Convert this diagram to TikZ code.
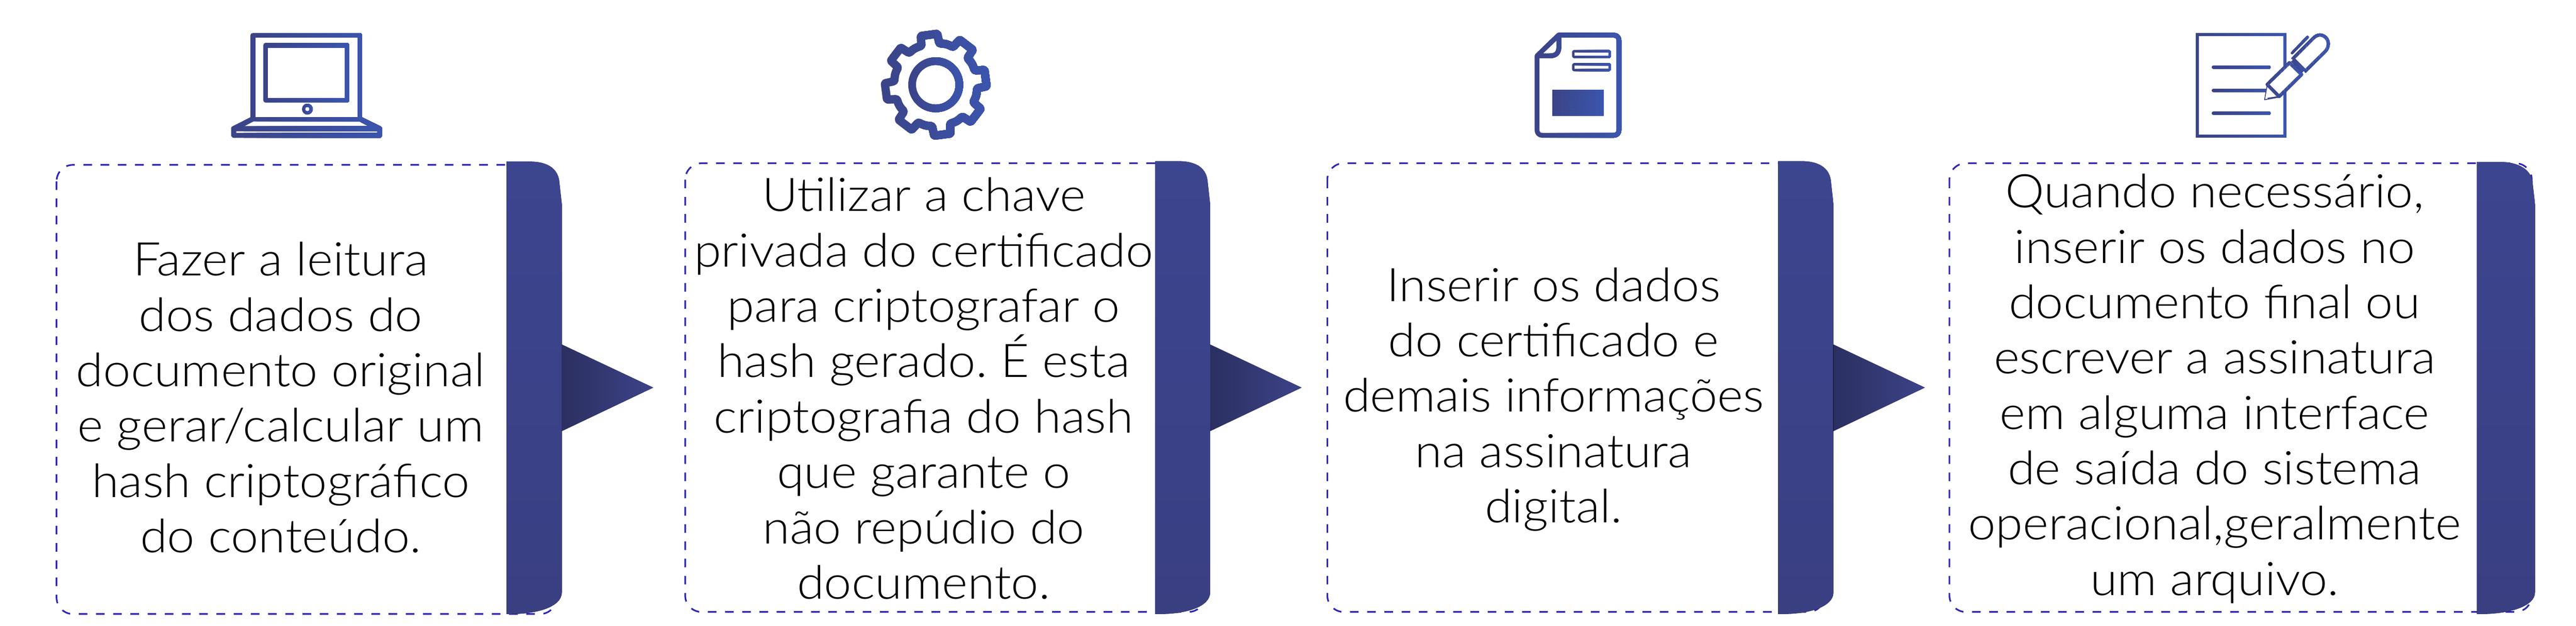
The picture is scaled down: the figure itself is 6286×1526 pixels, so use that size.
\documentclass[tikz,border=0pt]{standalone}
\usepackage{fontspec}
\setmainfont{Lato Light}
\newfontfamily\labelfont[FakeStretch=1.065]{Lato Light}
\definecolor{gradL}{HTML}{3B4386}
\definecolor{gradR}{HTML}{3B55AE}
\definecolor{barTop}{HTML}{3C458F}
\definecolor{barBot}{HTML}{3A3F82}
\definecolor{arrowL}{HTML}{2B2F60}
\definecolor{arrowR}{HTML}{3D4389}
\definecolor{frameBlue}{HTML}{2F26B8}
\definecolor{checkLine}{HTML}{2A5F90}
\tikzset{
  stepframe/.style={draw=frameBlue,line width=4pt,dash pattern=on 21pt off 21pt,rounded corners=40pt},
  stepbarshape/.style={top color=barTop,bottom color=barBot,draw=none},
  steparrow/.style={left color=arrowL,right color=arrowR,draw=none},
  steptext/.style={anchor=north,inner sep=0pt,align=center,text=black,font=\labelfont\fontsize{113}{135}\selectfont\frenchspacing},
  iconline/.style={draw,line join=round},
}
\newcommand{\firstline}{\vrule height 100pt width 0pt\relax}
% paints a path in 12 overlapping strips, so that strokes take a left-to-right gradient
\newcommand{\gradpaint}[4]{%
  \foreach \i in {0,...,11}{%
    \pgfmathsetmacro{\xa}{\i==0 ? #1-60 : #1+(#2-#1)*\i/12}%
    \pgfmathsetmacro{\mixv}{100*(\i+0.5)/12}%
    \begin{scope}
      \clip (\xa,-1000) rectangle (#2+100,2000);
      \path[color=gradR!\mixv!gradL,#3] #4;
    \end{scope}
  }%
}
\newcommand{\stepbar}[3]{% left, width, top
  \fill[stepbarshape] (#1,#3) -- ({#1+57},#3) .. controls ({#1+105},#3) and ({#1+#2-8},{#3+21}) .. ({#1+#2-6},{#3+51})
    -- ({#1+#2},498) -- ({#1+#2},1444) .. controls ({#1+#2},1480) and ({#1+74},1497) .. ({#1+11},1497) -- (#1,1497) -- cycle;
}
\newcommand{\steppointer}[1]{% base x
  \fill[steparrow] (#1,840) -- ({#1+223},945) -- (#1,1051) -- cycle;
}
\begin{document}
\begin{tikzpicture}[x=1pt,y=-1pt]
\useasboundingbox (0,0) rectangle (6286,1526);
\fill[white] (0,0) rectangle (6286,1526);

% frames
\draw[stepframe] (138,402) rectangle (1358,1497);
\draw[stepframe] (1672,398) rectangle (2940,1492);
\draw[stepframe] (3239,398) rectangle (4452,1492);
\draw[stepframe] (4757,398) rectangle (6178,1492);

% bars and pointers
\steppointer{1371}\stepbar{1236}{135}{394}
\steppointer{2953}\stepbar{2819}{134}{393}
\steppointer{4474}\stepbar{4339}{135}{393}
\stepbar{6044}{142}{395}

% texts
\node[steptext] (t1) at (685,572) {\firstline Fazer a leitura\\dos dados do\\documento original\\e gerar/calcular um\\hash criptográfico\\do conteúdo.};
\node[steptext] (t2) at (2254,415) {\firstline Utilizar a chave\\privada do certificado\\para criptografar o\\hash gerado. É esta\\criptografia do hash\\que garante o\\não repúdio do\\documento.};
\node[steptext] (t3) at (3791,634) {\firstline Inserir os dados\\do certificado e\\demais informações\\na assinatura\\digital.};
\node[steptext] (t4) at (5404,406) {\firstline Quando necessário,\\inserir os dados no\\documento final ou\\escrever a assinatura\\em alguma interface\\de saída do sistema\\operacional,geralmente\\um arquivo.};

% laptop icon
\begin{scope}[shift={(500,50)},scale=1/3]
  \gradpaint{192}{1297}{fill,even odd rule}{(333,708) -- (198,776) -- (192,785) -- (192,845) -- (205,858) -- (1285,858) -- (1297,845) -- (1297,785) -- (1290,776) -- (1152,708) -- cycle
     (355,738) -- (1131,738) -- (1198,773) -- (288,773) -- cycle (230,810) rectangle (1262,822)}
  \gradpaint{333}{1152}{iconline,line width=12pt}{(351,720) -- (351,108) -- (1134,108) -- (1134,720)}
  \gradpaint{427}{1058}{iconline,line width=12pt}{(445,181) rectangle (1040,583)}
  \gradpaint{711}{789}{draw,line width=7.5pt}{(750,648) circle [radius=28]}
\end{scope}

% gear icon
\begin{scope}[shift={(2100,50)},scale=1/3,shift={(550,470)}]
  \gradpaint{-403}{403}{iconline,line width=20pt,rounded corners=2pt}{
    ({-97.6-12.6}:304) foreach \k in {0,...,7}{
      -- ({\k*45-97.6-9.3}:373) -- ({\k*45-97.6+9.3}:373) -- ({\k*45-97.6+12.6}:304)
      .. controls ({\k*45-97.6+22.5}:309) .. ({\k*45-97.6+32.4}:304)
    } -- cycle}
  \gradpaint{-201}{201}{draw,line width=18.7pt}{(0,0) circle [radius=173]}
\end{scope}

% document icon
\begin{scope}[shift={(3680,50)},scale=1/3]
  \gradpaint{195}{830}{iconline,line width=11.7pt}{(212,258) -- (370,107) -- (772,107) .. controls (797,107) and (812,122) .. (812,147) -- (812,800) .. controls (812,825) and (797,840) .. (772,840) -- (252,840) .. controls (227,840) and (212,825) .. (212,800) -- cycle
     (372,107) -- (372,195) .. controls (372,235) and (350,258) .. (312,258) -- (212,258)}
  \gradpaint{469}{751}{iconline,line width=6pt,rounded corners=2pt}{(477,224) rectangle (744,267) (477,320) rectangle (744,363)}
  \gradpaint{322}{702}{fill}{(322,506) rectangle (702,698)}
  \draw[checkLine,line width=0.8pt,rounded corners=3pt] (443,612) -- (443,598) -- (460,598) -- (480,620) -- (567,545) -- (582,548) -- (578,568) -- (488,648) -- (472,648) -- cycle;
\end{scope}

% signing icon
\begin{scope}[shift={(5300,50)},scale=1/3]
  \gradpaint{173}{840}{draw,line width=8.3pt}{(185,103) rectangle (827,845)}
  \gradpaint{291}{722}{draw,line width=9pt,line cap=round}{(304,341) -- (709,341) (304,511) -- (700,511) (304,679) -- (709,679)}
  \gradpaint{675}{1155}{iconline,line width=2pt,fill=white}{(696,478) -- (678,580) -- (782,560) -- cycle}
  \gradpaint{675}{1155}{draw,line width=3pt}{(700,570) -- (782,558)}
  \gradpaint{682}{960}{iconline,line width=8pt,fill=white}{(697,468) -- (860,310) -- (948,395) -- (785,555) -- cycle}
  \gradpaint{860}{1155}{iconline,line width=8pt,fill=white}{(880,285) -- (1035,130) .. controls (1065,100) and (1100,100) .. (1125,125) .. controls (1150,150) and (1150,190) .. (1125,222) -- (970,375)}
  \gradpaint{860}{1000}{draw,line width=12pt}{(885,288) -- (965,368)}
  \gradpaint{868}{1002}{draw,line width=6.5pt,line cap=round}{(879,238) -- (992,122)}
\end{scope}
\end{tikzpicture}
\end{document}
